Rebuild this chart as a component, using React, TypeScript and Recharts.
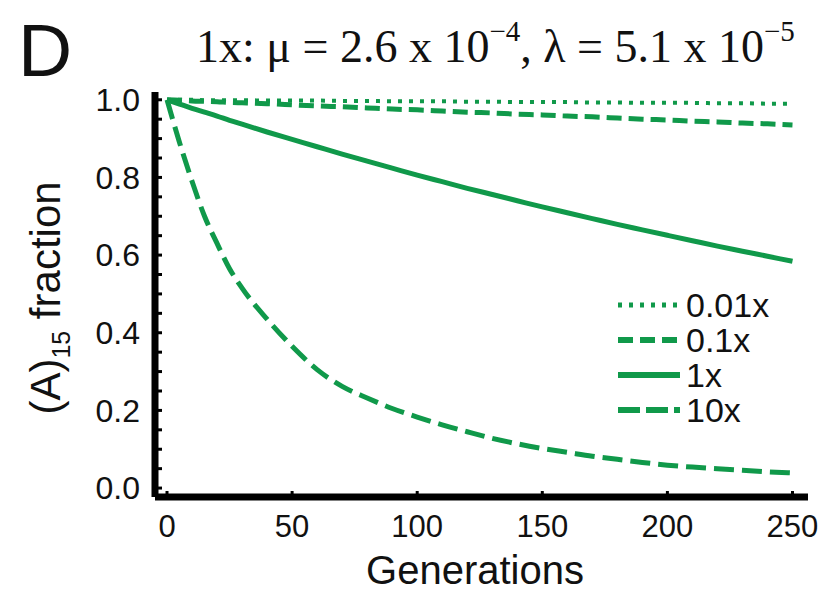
import React from 'react';
import { LineChart, Line, XAxis, YAxis, Legend } from 'recharts';

const generations = [0, 5, 10, 15, 20, 25, 30, 40, 50, 60, 70, 80, 90, 100, 110, 120, 130, 140, 150, 160, 170, 180, 190, 200, 210, 220, 230, 240, 250];
const rate001x = [1.0, 1.0, 1.0, 0.999, 0.999, 0.999, 0.999, 0.998, 0.998, 0.998, 0.997, 0.997, 0.996, 0.996, 0.996, 0.995, 0.995, 0.994, 0.994, 0.994, 0.993, 0.993, 0.992, 0.992, 0.992, 0.991, 0.991, 0.99, 0.99];
const rate01x = [1.0, 0.999, 0.997, 0.996, 0.995, 0.993, 0.992, 0.99, 0.987, 0.984, 0.982, 0.979, 0.976, 0.974, 0.971, 0.968, 0.966, 0.963, 0.961, 0.958, 0.956, 0.953, 0.95, 0.948, 0.945, 0.943, 0.94, 0.938, 0.935];
const rate1x = [1.0, 0.989, 0.978, 0.968, 0.958, 0.947, 0.937, 0.917, 0.898, 0.879, 0.86, 0.842, 0.824, 0.806, 0.789, 0.772, 0.756, 0.74, 0.724, 0.709, 0.694, 0.679, 0.665, 0.651, 0.637, 0.623, 0.61, 0.597, 0.584];
const rate10x = [1.0, 0.89, 0.79, 0.7, 0.63, 0.565, 0.515, 0.435, 0.365, 0.305, 0.262, 0.232, 0.205, 0.183, 0.163, 0.145, 0.128, 0.114, 0.102, 0.092, 0.082, 0.074, 0.066, 0.059, 0.054, 0.05, 0.046, 0.042, 0.039];

const xTicks = [0, 50, 100, 150, 200, 250];
const yTicks = [0, 0.05, 0.1, 0.15, 0.2, 0.25, 0.3, 0.35, 0.4, 0.45, 0.5, 0.55, 0.6, 0.65, 0.7, 0.75, 0.8, 0.85, 0.9, 0.95, 1.0];
const yLabelled = [0, 0.2, 0.4, 0.6, 0.8, 1.0];

const seriesNames = ['0.01x', '0.1x', '1x', '10x'];

const GREEN = '#10994a';
const SANS = '"Liberation Sans", Arial, Helvetica, sans-serif';

const data = generations.map((g, i) => ({
  gen: g,
  s001: rate001x[i],
  s01: rate01x[i],
  s1: rate1x[i],
  s10: rate10x[i],
}));

const styles: Record<string, { dash?: string; width: number }> = {
  '0.01x': { dash: '4 7', width: 4 },
  '0.1x': { dash: '15 7', width: 5 },
  '1x': { width: 5 },
  '10x': { dash: '22 6', width: 5 },
};

const renderLegend = () => (
  <div style={{ fontFamily: SANS, fontSize: 34, color: '#111', lineHeight: '34px' }}>
    {seriesNames.map((n) => (
      <div key={n} style={{ display: 'flex', alignItems: 'center', height: 35 }}>
        <svg width={66} height={20} style={{ marginRight: 4 }}>
          <line
            x1={2}
            y1={10}
            x2={64}
            y2={10}
            stroke={GREEN}
            strokeWidth={styles[n].width + 1}
            strokeDasharray={styles[n].dash}
          />
        </svg>
        <span>{n}</span>
      </div>
    ))}
  </div>
);

const yFmt = (v: number) => (yLabelled.some((t) => Math.abs(t - v) < 1e-6) ? v.toFixed(1) : '');

export default function App() {
  return (
    <div style={{ position: 'absolute', left: 0, top: 0, width: 840, height: 600, background: '#fff' }}>
      <LineChart
        width={840}
        height={600}
        data={data}
        margin={{ top: 92, right: 32, bottom: 43, left: 75 }}
      >
        <XAxis
          dataKey="gen"
          type="number"
          domain={[-4.8, 256.2]}
          ticks={xTicks}
          interval={0}
          height={60}
          axisLine={{ stroke: '#000', strokeWidth: 7 }}
          tickLine={{ stroke: '#000', strokeWidth: 3 }}
          tickSize={-6}
          tickMargin={24}
          tick={{ fill: '#111', fontSize: 31, fontFamily: SANS }}
        />
        <YAxis
          type="number"
          domain={[-0.023, 1.02]}
          ticks={yTicks}
          interval={0}
          width={80}
          axisLine={{ stroke: '#000', strokeWidth: 7 }}
          tickLine={{ stroke: '#000', strokeWidth: 3 }}
          tickSize={-7}
          tickMargin={22}
          tickFormatter={yFmt}
          tick={{ fill: '#111', fontSize: 32, fontFamily: SANS }}
        />
        <Legend
          content={renderLegend}
          layout="horizontal"
          align="center"
          verticalAlign="middle"
          wrapperStyle={{ left: 616, top: 287, width: 200 }}
        />
        <Line dataKey="s001" name="0.01x" type="monotone" stroke={GREEN} strokeWidth={4} strokeDasharray="4 7" dot={false} isAnimationActive={false} />
        <Line dataKey="s01" name="0.1x" type="monotone" stroke={GREEN} strokeWidth={5} strokeDasharray="15 7" dot={false} isAnimationActive={false} />
        <Line dataKey="s1" name="1x" type="monotone" stroke={GREEN} strokeWidth={5} dot={false} isAnimationActive={false} />
        <Line dataKey="s10" name="10x" type="monotone" stroke={GREEN} strokeWidth={5} strokeDasharray="20 8" dot={false} isAnimationActive={false} />
      </LineChart>
      <svg
        width={840}
        height={600}
        style={{ position: 'absolute', left: 0, top: 0, pointerEvents: 'none' }}
      >
        <text x={18} y={76} fontFamily={SANS} fontSize={75} fill="#111">D</text>
        <text
          x={196}
          y={62}
          fontFamily='"Liberation Serif", "Times New Roman", serif'
          fontSize={46}
          fill="#111"
        >
          <tspan>1x: μ = 2.6 x 10</tspan>
          <tspan fontSize={29} dy={-21}>−4</tspan>
          <tspan dy={21}>, λ = 5.1 x 10</tspan>
          <tspan fontSize={29} dy={-21}>−5</tspan>
        </text>
        <text x={475} y={584} textAnchor="middle" fontFamily={SANS} fontSize={40} fill="#111">Generations</text>
        <text
          transform="translate(60, 298) rotate(-90)"
          textAnchor="middle"
          fontFamily={SANS}
          fontSize={42}
          fill="#111"
        >
          <tspan>(A)</tspan>
          <tspan fontSize={25} dy={10}>15</tspan>
          <tspan dy={-10}> fraction</tspan>
        </text>
      </svg>
    </div>
  );
}
